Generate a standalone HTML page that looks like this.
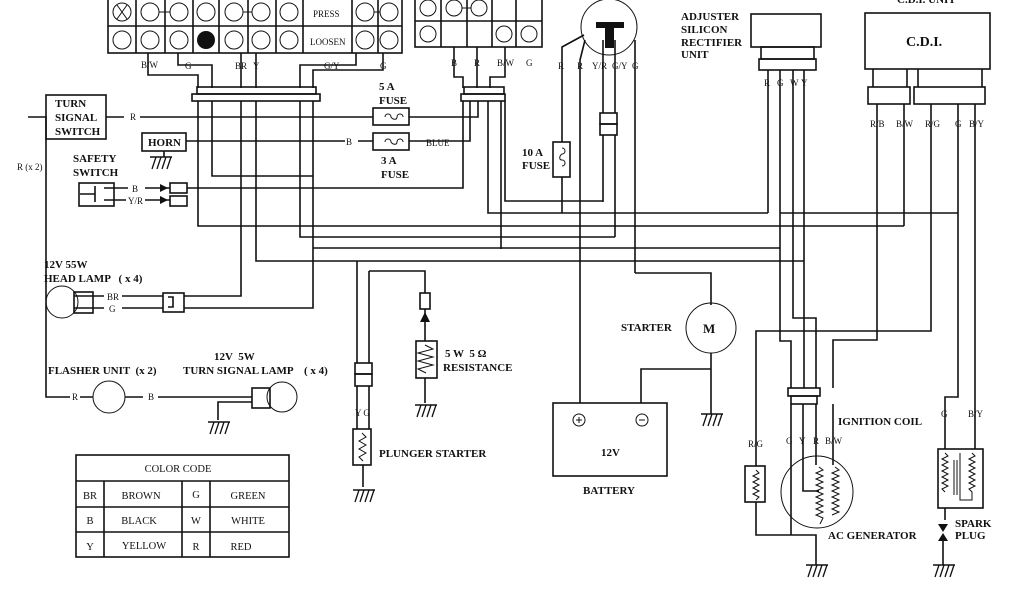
<!DOCTYPE html>
<html><head><meta charset="utf-8"><style>
html,body{margin:0;padding:0;background:#fff}
svg{display:block}
text{font-family:"Liberation Serif",serif;fill:#111}
.b{font-weight:bold;font-size:11px}
.s{font-size:9px}
</style></head><body>
<svg width="1024" height="600" viewBox="0 0 1024 600" xmlns="http://www.w3.org/2000/svg">
<defs>
<g id="gnd"><line x1="-10" y1="0" x2="12" y2="0" stroke="#111" stroke-width="1.5"/><path d="M-8 12 L-4 0 M-3 12 L1 0 M2 12 L6 0 M7 12 L11 0" stroke="#111" stroke-width="1.3"/></g>
</defs>
<g fill="none" stroke="#111" stroke-width="1.6">
<rect x="108" y="-5" width="294" height="58"/>
<line x1="108" y1="26" x2="402" y2="26"/>
<path d="M136 -5V53M165 -5V53M193 -5V53M219 -5V53M248 -5V53M276 -5V53M303 -5V53M352 -5V53M378 -5V53"/>
<g stroke-width="1">
<circle cx="122" cy="12" r="9"/><circle cx="150" cy="12" r="9"/><circle cx="179" cy="12" r="9"/><circle cx="206" cy="12" r="9"/><circle cx="234" cy="12" r="9"/><circle cx="261" cy="12" r="9"/><circle cx="289" cy="12" r="9"/><circle cx="365" cy="12" r="9"/><circle cx="389" cy="12" r="9"/>
<path d="M159 12H170M243 12H252M374 12H380M117 5L127 19M127 5L117 19"/>
<circle cx="122" cy="40" r="9"/><circle cx="150" cy="40" r="9"/><circle cx="179" cy="40" r="9"/><circle cx="234" cy="40" r="9"/><circle cx="261" cy="40" r="9"/><circle cx="289" cy="40" r="9"/><circle cx="365" cy="40" r="9"/><circle cx="389" cy="40" r="9"/>
</g>
<rect x="415" y="-5" width="127" height="52"/>
<line x1="415" y1="21" x2="542" y2="21"/>
<path d="M441 -5V47M467 -5V47M492 -5V47M516 -5V47"/>
<g stroke-width="1"><circle cx="428" cy="8" r="8"/><circle cx="454" cy="8" r="8"/><circle cx="479" cy="8" r="8"/><path d="M462 8H471"/><circle cx="428" cy="34" r="8"/><circle cx="504" cy="34" r="8"/><circle cx="529" cy="34" r="8"/></g>
<path d="M148 53V75H198V88M178 53V65H212V88M241 53V88M256 53V88M356 53V65H300V88M383 53V70H313V88"/>
<rect x="197" y="87" width="119" height="7"/><rect x="192" y="94" width="128" height="7"/>
<path d="M454 47V77H463V88M477 47V88M505 47V77H490V88"/>
<rect x="464" y="87" width="40" height="7"/><rect x="461" y="94" width="44" height="7"/>
<path d="M198 101V226H904M212 101V176H313M241 101V296H184M256 101V261H804M300 101V237H615M313 101V308H184"/>
<path d="M313 248H780"/>
<path d="M463 101V188H187M470 101V141H409M478 101V117H409M488 101V213H768M501 101V249"/>
<path d="M780 213H958"/>
<path d="M505 101V201H603"/>
<rect x="46" y="95" width="60" height="44"/>
<path d="M106 117H124M140 117H373M186 141H345M358 141H373M28 117H46V397H70M80 397H93"/>
<rect x="373" y="108" width="36" height="17"/><rect x="373" y="133" width="36" height="17"/>
<rect x="142" y="133" width="44" height="18"/>
<path d="M164 151V157"/>
<rect x="79" y="183" width="35" height="23"/>
<path d="M80 194H95M95 186V202M104 188H128M104 200H126M145 188H170M145 200H170"/>
<rect x="170" y="183" width="17" height="10"/><rect x="170" y="196" width="17" height="10"/>
<path d="M74 296H104M74 308H104M122 296H163M122 308H163"/>
<rect x="74" y="292" width="19" height="21"/>
<rect x="163" y="293" width="21" height="19"/><path d="M168 297H173V307H168"/>
<path d="M125 397H143M158 397H252M252 402H218V420"/>
<rect x="252" y="388" width="18" height="20"/>
<path d="M357 261V363M369 271H425V293M369 271V363M357 386V429M369 386V429M363 465V487M425 309V322M425 322V341M425 378V403"/>
<rect x="355" y="363" width="17" height="11"/><rect x="355" y="374" width="17" height="12"/>
<rect x="353" y="429" width="18" height="36"/>
<rect x="420" y="293" width="10" height="16"/>
<rect x="416" y="341" width="21" height="37"/>
<path d="M562 213V177M562 142V47L584 35M580 226V60L585 40M603 202V135M615 237V135M603 113V40M615 113V40M635 273H711V305M635 273V40"/>
<rect x="600" y="113" width="17" height="11"/><rect x="600" y="124" width="17" height="11"/>
<rect x="553" y="142" width="17" height="35"/>
<path d="M580 226V370M580 370V403"/>
<rect x="751" y="14" width="70" height="33"/>
<rect x="761" y="47" width="53" height="12"/><rect x="759" y="59" width="57" height="11"/>
<path d="M768 70V213M780 70V341H791V388M793 70V318H816V388M804 70V388"/>
<rect x="865" y="13" width="125" height="56"/>
<rect x="868" y="87" width="42" height="17"/><rect x="914" y="87" width="71" height="17"/>
<path d="M873 69V87M907 69V87M918 69V87M982 69V87M877 104V340H833V388M904 104V226M931 104V331H756V466M958 104V397H945V449M975 104V449"/>
<rect x="788" y="388" width="32" height="8"/><rect x="791" y="396" width="26" height="8"/>
<path d="M791 404V535M803 404V491H819M816 404V465M833 404V465M756 502V535H816V565"/>
<rect x="745" y="466" width="20" height="36"/>
<path d="M711 353V414M711 369H641V403"/>
<rect x="553" y="403" width="114" height="73"/>
<rect x="938" y="449" width="45" height="59"/>
<path d="M945 508V520M943 540V565"/>
</g>
<g fill="none" stroke="#111" stroke-width="1">
<circle cx="609" cy="27" r="28"/>
<circle cx="711" cy="328" r="25"/>
<circle cx="817" cy="492" r="36"/>
<circle cx="62" cy="302" r="16"/>
<circle cx="109" cy="397" r="16"/>
<circle cx="282" cy="397" r="15"/>
<circle cx="579" cy="420" r="6"/><circle cx="642" cy="420" r="6"/>
<path d="M385 117c0-4 6-4 6 0c2 3 6 3 6 0c0-4 6-4 6 0M385 142c0-4 6-4 6 0c2 3 6 3 6 0c0-4 6-4 6 0"/>
<path d="M562 148c4 0 4 6 0 6c-3 2 -3 6 0 6c4 0 4 6 0 6"/>
<path d="M425 345l8 4l-15 4l15 4l-15 4l15 4l-15 4l8 4"/>
<path d="M362 433l4 4l-7 4l7 4l-7 4l7 4l-7 4l4 4"/>
<path d="M756 470l3 3l-6 3l6 3l-6 3l6 3l-6 3l6 3l-6 3l6 3l-3 3"/>
<path d="M819 467l4 3l-7 3l7 3l-7 3l7 3l-7 3l7 3l-7 3l7 3l-7 3l7 3l-7 3l7 3l-7 3l7 3l-7 3l7 3l-3 6M835 467l4 3l-7 3l7 3l-7 3l7 3l-7 3l7 3l-7 3l7 3l-7 3l7 3l-7 3l7 3l-7 3l7 3l-7 3"/>
<path d="M945 453l3 3l-6 3l6 3l-6 3l6 3l-6 3l6 3l-6 3l6 3l-6 3l6 3l-6 3l3 3M972 453l3 3l-6 3l6 3l-6 3l6 3l-6 3l6 3l-6 3l6 3l-6 3l6 3l-6 3l3 3V500H960V453M954 460V495M957 460V495"/>
<path d="M576 420h6M579 417v6M639 420h6"/>
</g>
<circle cx="206" cy="40" r="9" fill="#111"/>
<path d="M596 22H624V28H614V48H605V28H596Z" fill="#111"/>
<path d="M420 322L425 312L430 322Z M938 524L948 524L943 532Z M938 541L948 541L943 533Z" fill="#111"/>
<path d="M160 184L168 188L160 192Z M160 196L168 200L160 204Z" fill="#111"/>
<use href="#gnd" x="160" y="157"/><use href="#gnd" x="218" y="422"/><use href="#gnd" x="363" y="490"/><use href="#gnd" x="425" y="405"/><use href="#gnd" x="711" y="414"/><use href="#gnd" x="816" y="565"/><use href="#gnd" x="943" y="565"/>
<g fill="none" stroke="#111" stroke-width="1.6">
<rect x="76" y="455" width="213" height="102"/>
<path d="M76 481H289M76 507H289M76 532H289M104 481V557M182 481V557M210 481V557"/>
</g>
<g class="b" style="font-weight:normal;font-size:10.5px">
<text x="178" y="472" text-anchor="middle">COLOR CODE</text>
<text x="90" y="499" text-anchor="middle">BR</text><text x="141" y="499" text-anchor="middle">BROWN</text><text x="196" y="498" text-anchor="middle">G</text><text x="248" y="499" text-anchor="middle">GREEN</text>
<text x="90" y="524" text-anchor="middle">B</text><text x="139" y="524" text-anchor="middle">BLACK</text><text x="196" y="524" text-anchor="middle">W</text><text x="248" y="524" text-anchor="middle">WHITE</text>
<text x="90" y="550" text-anchor="middle">Y</text><text x="144" y="549" text-anchor="middle">YELLOW</text><text x="196" y="550" text-anchor="middle">R</text><text x="241" y="550" text-anchor="middle">RED</text>
</g>
<g class="s">
<text x="313" y="17">PRESS</text><text x="310" y="45">LOOSEN</text>
<text x="141" y="68">B/W</text><text x="185" y="69">G</text><text x="235" y="69">BR</text><text x="253" y="69">Y</text><text x="324" y="69">G/Y</text><text x="380" y="69">G</text>
<text x="451" y="66">B</text><text x="474" y="66">R</text><text x="497" y="66">B/W</text><text x="526" y="66">G</text>
<text x="130" y="120">R</text><text x="346" y="145">B</text><text x="426" y="146">BLUE</text>
<text x="17" y="170">R (x 2)</text>
<text x="132" y="192">B</text><text x="128" y="204">Y/R</text>
<text x="107" y="300">BR</text><text x="109" y="312">G</text>
<text x="72" y="400">R</text><text x="148" y="400">B</text>
<text x="355" y="416">Y G</text>
<text x="558" y="69">R</text><text x="577" y="69">R</text><text x="592" y="69">Y/R</text><text x="612" y="69">G/Y</text><text x="632" y="69">G</text>
<text x="764" y="86">R</text><text x="777" y="86">G</text><text x="790" y="86">W</text><text x="801" y="86">Y</text>
<text x="870" y="127">R/B</text><text x="896" y="127">B/W</text><text x="925" y="127">R/G</text><text x="955" y="127">G</text><text x="969" y="127">B/Y</text>
<text x="748" y="447">R/G</text><text x="786" y="444">G</text><text x="799" y="444">Y</text><text x="813" y="444">R</text><text x="825" y="444">B/W</text>
<text x="941" y="417">G</text><text x="968" y="417">B/Y</text>
</g>
<g class="b">
<text x="55" y="107">TURN</text><text x="55" y="121">SIGNAL</text><text x="55" y="135">SWITCH</text>
<text x="148" y="146">HORN</text>
<text x="73" y="162">SAFETY</text><text x="73" y="176">SWITCH</text>
<text x="379" y="90">5 A</text><text x="379" y="104">FUSE</text>
<text x="381" y="164">3 A</text><text x="381" y="178">FUSE</text>
<text x="44" y="268">12V 55W</text><text x="44" y="282">HEAD LAMP &#160;&#160;( x 4)</text>
<text x="48" y="374">FLASHER UNIT &#160;(x 2)</text>
<text x="214" y="360">12V &#160;5W</text><text x="183" y="374">TURN SIGNAL LAMP &#160;&#160;&#160;( x 4)</text>
<text x="445" y="357">5 W &#160;5 Ω</text><text x="443" y="371">RESISTANCE</text>
<text x="379" y="457">PLUNGER STARTER</text>
<text x="522" y="156">10 A</text><text x="522" y="169">FUSE</text>
<text x="681" y="20">ADJUSTER</text><text x="681" y="33">SILICON</text><text x="681" y="46">RECTIFIER</text><text x="681" y="58">UNIT</text>
<text x="897" y="3">C.D.I. UNIT</text>
<text x="906" y="46" style="font-size:14px">C.D.I.</text>
<text x="621" y="331">STARTER</text>
<text x="703" y="333" style="font-size:13px">M</text>
<text x="601" y="456">12V</text>
<text x="583" y="494">BATTERY</text>
<text x="838" y="425">IGNITION COIL</text>
<text x="828" y="539">AC GENERATOR</text>
<text x="955" y="527">SPARK</text><text x="955" y="539">PLUG</text>
</g>
</svg>
</body></html>
